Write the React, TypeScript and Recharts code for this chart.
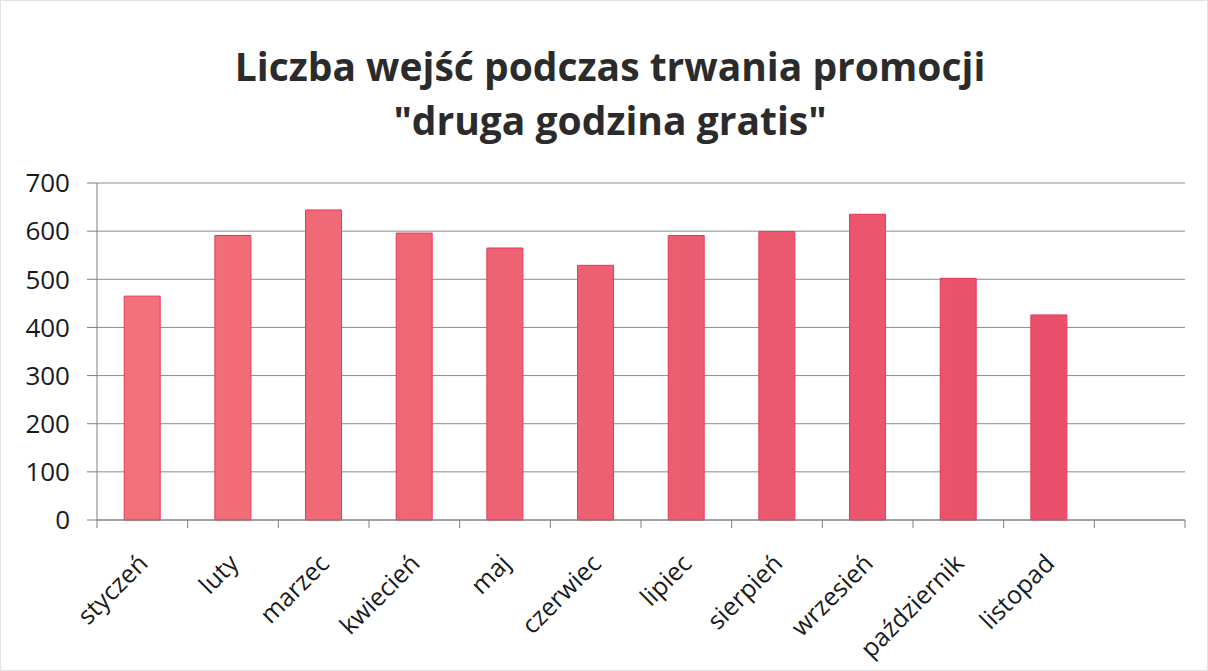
import { Bar, BarChart, CartesianGrid, XAxis, YAxis } from "recharts"

const months = [
  "styczeń",
  "luty",
  "marzec",
  "kwiecień",
  "maj",
  "czerwiec",
  "lipiec",
  "sierpień",
  "wrzesień",
  "październik",
  "listopad",
  "",
]

const entries = [465, 591, 644, 596, 565, 529, 591, 599, 635, 502, 426, null]

const yTicks = [0, 100, 200, 300, 400, 500, 600, 700]

const data = months.map((month, i) => ({ month, entries: entries[i] }))

const W = 1208
const H = 671
const margin = { top: 182, right: 24, bottom: 0, left: 16 }
const yAxisWidth = 80
const plotLeft = margin.left + yAxisWidth
const plotRight = W - margin.right
const band = (plotRight - plotLeft) / months.length

const font = "'Open Sans', sans-serif"

function MonthTick(props: any) {
  const { x, y, payload, index } = props
  const left = x - band / 2
  const ax = x + 7
  const ay = y + 37
  return (
    <g>
      <line x1={left} y1={y - 8} x2={left} y2={y} stroke="#7f7f7f" />
      {index === months.length - 1 && (
        <line x1={x + band / 2} y1={y - 8} x2={x + band / 2} y2={y} stroke="#7f7f7f" />
      )}
      <text
        x={ax}
        y={ay}
        transform={`rotate(-45, ${ax}, ${ay})`}
        textAnchor="end"
        fontSize={25}
        fontFamily={font}
        fill="#1a1a1a"
      >
        {payload.value}
      </text>
    </g>
  )
}

export default function App() {
  return (
    <div
      style={{
        position: "absolute",
        left: 0,
        top: 0,
        width: W,
        height: H,
        background: "#fff",
        boxSizing: "border-box",
        border: "1px solid #e3e3e3",
      }}
    >
      <div
        style={{
          position: "absolute",
          left: 0,
          top: 38,
          width: W + 10,
          textAlign: "center",
          fontFamily: font,
          fontWeight: 700,
          fontSize: 39,
          lineHeight: "54px",
          color: "#2b2b2b",
        }}
      >
        Liczba wejść podczas trwania promocji
        <br />
        "druga godzina gratis"
      </div>
      <BarChart
        width={W}
        height={H}
        data={data}
        margin={margin}
        barCategoryGap="30%"
        style={{ position: "absolute", left: 0, top: 0 }}
      >
        <defs>
          <linearGradient
            id="barFill"
            gradientUnits="userSpaceOnUse"
            x1={plotLeft}
            y1={0}
            x2={plotRight}
            y2={0}
          >
            <stop offset="0%" stopColor="#f2727a" />
            <stop offset="100%" stopColor="#e84a68" />
          </linearGradient>
        </defs>
        <CartesianGrid vertical={false} stroke="#8c8c8c" />
        <XAxis
          dataKey="month"
          interval={0}
          height={152}
          tickLine={false}
          stroke="#7f7f7f"
          tick={<MonthTick />}
        />
        <YAxis
          width={yAxisWidth}
          domain={[0, 700]}
          ticks={yTicks}
          interval={0}
          tickSize={10}
          tickMargin={17}
          stroke="#7f7f7f"
          tick={{ fontSize: 26, fontFamily: font, fill: "#1a1a1a" }}
        />
        <Bar
          dataKey="entries"
          fill="url(#barFill)"
          stroke="#e8385a"
          strokeWidth={1}
          isAnimationActive={false}
        />
      </BarChart>
    </div>
  )
}
